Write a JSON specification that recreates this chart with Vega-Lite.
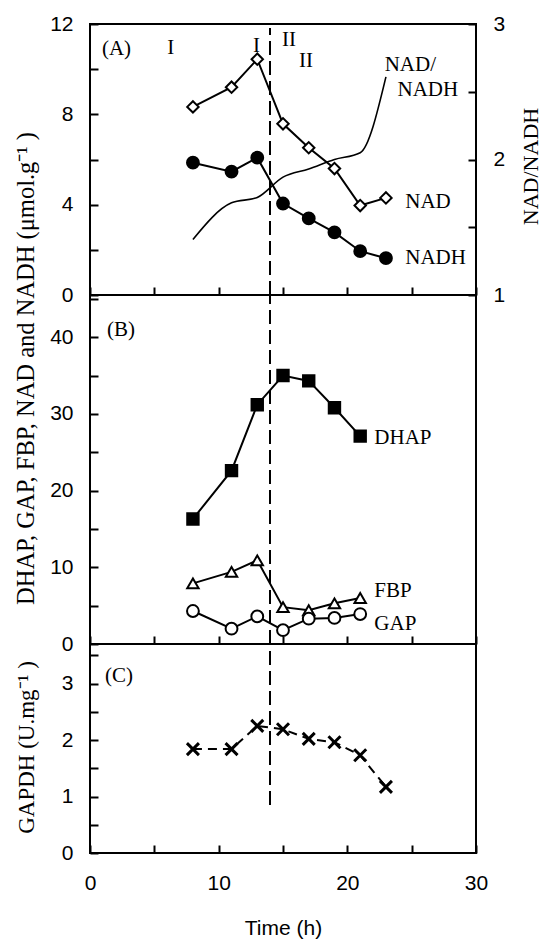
{
  "$schema": "https://vega.github.io/schema/vega-lite/v6.json",
  "background": "white",
  "padding": {"left": 11, "top": 12, "right": 0, "bottom": 0},
  "spacing": 0,
  "bounds": "flush",
  "config": {
    "view": {"stroke": "black", "strokeWidth": 2},
    "axis": {
      "domain": false, "grid": false,
      "tickColor": "black", "tickWidth": 2, "tickSize": -8,
      "labelFont": "Liberation Sans", "labelFontSize": 21, "labelColor": "black",
      "labelPadding": 25, "labelFlush": false, "labelOverlap": false, "labelBound": false,
      "titleFont": "Liberation Serif", "titleFontSize": 23, "titleFontWeight": "normal", "titleColor": "black"
    },
    "text": {"font": "Liberation Serif", "fontSize": 21, "color": "black"}
  },
  "datasets": {
    "panelA": [
      {"t": 8, "s": "NAD", "v": 8.33}, {"t": 11, "s": "NAD", "v": 9.2}, {"t": 13, "s": "NAD", "v": 10.44}, {"t": 15, "s": "NAD", "v": 7.58},
      {"t": 17, "s": "NAD", "v": 6.52}, {"t": 19, "s": "NAD", "v": 5.6}, {"t": 21, "s": "NAD", "v": 3.96}, {"t": 23, "s": "NAD", "v": 4.3},
      {"t": 8, "s": "NADH", "v": 5.86}, {"t": 11, "s": "NADH", "v": 5.46}, {"t": 13, "s": "NADH", "v": 6.08}, {"t": 15, "s": "NADH", "v": 4.05},
      {"t": 17, "s": "NADH", "v": 3.39}, {"t": 19, "s": "NADH", "v": 2.77}, {"t": 21, "s": "NADH", "v": 1.94}, {"t": 23, "s": "NADH", "v": 1.63}
    ],
    "ratio": [
      {"t": 8, "r": 1.41}, {"t": 11, "r": 1.68}, {"t": 13, "r": 1.72}, {"t": 15, "r": 1.87},
      {"t": 17, "r": 1.93}, {"t": 19, "r": 2.0}, {"t": 21, "r": 2.05}, {"t": 23, "r": 2.61}
    ],
    "panelB": [
      {"t": 8, "s": "DHAP", "v": 16.3}, {"t": 11, "s": "DHAP", "v": 22.6}, {"t": 13, "s": "DHAP", "v": 31.2}, {"t": 15, "s": "DHAP", "v": 35.0},
      {"t": 17, "s": "DHAP", "v": 34.3}, {"t": 19, "s": "DHAP", "v": 30.8}, {"t": 21, "s": "DHAP", "v": 27.1},
      {"t": 8, "s": "FBP", "v": 7.9}, {"t": 11, "s": "FBP", "v": 9.4}, {"t": 13, "s": "FBP", "v": 10.9}, {"t": 15, "s": "FBP", "v": 4.8},
      {"t": 17, "s": "FBP", "v": 4.4}, {"t": 19, "s": "FBP", "v": 5.3}, {"t": 21, "s": "FBP", "v": 6.0},
      {"t": 8, "s": "GAP", "v": 4.3}, {"t": 11, "s": "GAP", "v": 2.0}, {"t": 13, "s": "GAP", "v": 3.6}, {"t": 15, "s": "GAP", "v": 1.8},
      {"t": 17, "s": "GAP", "v": 3.3}, {"t": 19, "s": "GAP", "v": 3.4}, {"t": 21, "s": "GAP", "v": 3.9}
    ],
    "panelC": [
      {"t": 8, "v": 1.84}, {"t": 11, "v": 1.84}, {"t": 13, "v": 2.25}, {"t": 15, "v": 2.19},
      {"t": 17, "v": 2.02}, {"t": 19, "v": 1.96}, {"t": 21, "v": 1.73}, {"t": 23, "v": 1.17}
    ],
    "labelsA": [
      {"t": 0.93, "v": 10.88, "text": "(A)"}, {"t": 6.0, "v": 10.93, "text": "I"}, {"t": 12.67, "v": 11.02, "text": "I"},
      {"t": 14.92, "v": 11.28, "text": "II"}, {"t": 16.24, "v": 10.35, "text": "II"},
      {"t": 22.9, "v": 10.18, "text": "NAD/"}, {"t": 23.9, "v": 9.07, "text": "NADH"},
      {"t": 24.5, "v": 4.12, "text": "NAD"}, {"t": 24.5, "v": 1.64, "text": "NADH"}
    ],
    "labelsB": [
      {"t": 1.32, "v": 40.9, "text": "(B)"}, {"t": 22.1, "v": 26.8, "text": "DHAP"},
      {"t": 22.1, "v": 6.9, "text": "FBP"}, {"t": 22.1, "v": 2.6, "text": "GAP"}
    ],
    "labelsC": [
      {"t": 1.17, "v": 3.14, "text": "(C)"}
    ]
  },
  "vconcat": [
    {
      "width": 386, "height": 271,
      "layer": [
        {
          "data": {"name": "panelA"},
          "encoding": {
            "x": {"field": "t", "type": "quantitative", "scale": {"domain": [0, 30], "nice": false}, "axis": {"title": null, "labels": false, "values": [0, 5, 10, 15, 20, 25, 30]}},
            "y": {"field": "v", "type": "quantitative", "scale": {"domain": [0, 12], "nice": false}, "axis": {"title": null, "values": [0, 2, 4, 6, 8, 10, 12], "labelExpr": "datum.value % 4 == 0 ? datum.label : ''"}}
          },
          "layer": [
            {"mark": {"type": "rule", "stroke": "black", "strokeWidth": 1.5, "strokeDash": [14, 6]}, "encoding": {"x": {"datum": 14}, "y": {"datum": 0}, "y2": {"datum": 11.8}}},
            {"mark": {"type": "line", "stroke": "black", "strokeWidth": 2}, "encoding": {"detail": {"field": "s"}}},
            {"transform": [{"filter": "datum.s == 'NAD'"}], "mark": {"type": "point", "shape": "diamond", "filled": true, "fill": "white", "stroke": "black", "strokeWidth": 2, "size": 130, "opacity": 1}},
            {"transform": [{"filter": "datum.s == 'NADH'"}], "mark": {"type": "point", "shape": "circle", "filled": true, "fill": "black", "stroke": "black", "size": 140, "opacity": 1}},
            {"data": {"name": "labelsA"}, "mark": {"type": "text", "align": "left", "baseline": "middle", "font": "Liberation Serif", "fontSize": 21, "fill": "black"}, "encoding": {"text": {"field": "text"}}}
          ]
        },
        {
          "data": {"name": "ratio"},
          "mark": {"type": "line", "stroke": "black", "strokeWidth": 1.6, "interpolate": "monotone"},
          "encoding": {
            "x": {"field": "t", "type": "quantitative", "scale": {"domain": [0, 30], "nice": false}, "axis": {"title": null, "labels": false, "values": [0, 5, 10, 15, 20, 25, 30]}},
            "y": {"field": "r", "type": "quantitative", "scale": {"domain": [1, 3], "nice": false, "zero": false},
                  "axis": {"orient": "right", "title": "NAD/NADH", "titleAngle": -90, "titleX": 61, "titleY": 142, "titleAlign": "center", "titleBaseline": "alphabetic", "titleFontSize": 22,
                           "values": [1, 1.5, 2, 2.5, 3], "labelExpr": "datum.value % 1 == 0 ? format(datum.value, 'd') : ''"}}
          }
        }
      ],
      "resolve": {"scale": {"y": "independent"}}
    },
    {
      "width": 386, "height": 349,
      "data": {"name": "panelB"},
      "encoding": {
        "x": {"field": "t", "type": "quantitative", "scale": {"domain": [0, 30], "nice": false}, "axis": {"title": null, "labels": false, "values": [0, 5, 10, 15, 20, 25, 30]}},
        "y": {"field": "v", "type": "quantitative", "scale": {"domain": [0, 45.5], "nice": false},
              "axis": {"title": "DHAP, GAP, FBP, NAD and NADH (μmol.g⁻¹ )", "titleAngle": -90, "titleX": -57, "titleY": 73, "titleAlign": "center", "titleBaseline": "alphabetic", "titleFontSize": 24.5,
                       "values": [0, 5, 10, 15, 20, 25, 30, 35, 40, 45], "labelExpr": "datum.value % 10 == 0 ? datum.label : ''"}}
      },
      "layer": [
        {"mark": {"type": "rule", "stroke": "black", "strokeWidth": 1.5, "strokeDash": [14, 6]}, "encoding": {"x": {"datum": 14}, "y": {"datum": 0}, "y2": {"datum": 45.5}}},
        {"mark": {"type": "line", "stroke": "black", "strokeWidth": 2}, "encoding": {"detail": {"field": "s"}}},
        {"transform": [{"filter": "datum.s == 'DHAP'"}], "mark": {"type": "point", "shape": "square", "filled": true, "fill": "black", "stroke": "black", "size": 130, "opacity": 1}},
        {"transform": [{"filter": "datum.s == 'FBP'"}], "mark": {"type": "point", "shape": "triangle-up", "filled": true, "fill": "white", "stroke": "black", "strokeWidth": 2, "size": 130, "opacity": 1}},
        {"transform": [{"filter": "datum.s == 'GAP'"}], "mark": {"type": "point", "shape": "circle", "filled": true, "fill": "white", "stroke": "black", "strokeWidth": 2, "size": 140, "opacity": 1}},
        {"data": {"name": "labelsB"}, "mark": {"type": "text", "align": "left", "baseline": "middle", "font": "Liberation Serif", "fontSize": 21, "fill": "black"}, "encoding": {"text": {"field": "text"}}}
      ]
    },
    {
      "width": 386, "height": 209,
      "data": {"name": "panelC"},
      "encoding": {
        "x": {"field": "t", "type": "quantitative", "scale": {"domain": [0, 30], "nice": false},
              "axis": {"title": "Time (h)", "titleFont": "Liberation Sans", "titleFontSize": 21, "titleY": 81, "titleBaseline": "alphabetic",
                       "values": [0, 5, 10, 15, 20, 25, 30], "labelExpr": "datum.value % 10 == 0 ? datum.label : ''", "labelPadding": 27}},
        "y": {"field": "v", "type": "quantitative", "scale": {"domain": [0, 3.7], "nice": false},
              "axis": {"title": "GAPDH (U.mg⁻¹ )", "titleAngle": -90, "titleX": -57, "titleY": 103, "titleAlign": "center", "titleBaseline": "alphabetic",
                       "values": [0, 0.5, 1, 1.5, 2, 2.5, 3, 3.5], "labelExpr": "datum.value % 1 == 0 ? format(datum.value, 'd') : ''"}}
      },
      "layer": [
        {"mark": {"type": "rule", "stroke": "black", "strokeWidth": 1.5, "strokeDash": [14, 6]}, "encoding": {"x": {"datum": 14}, "y": {"datum": 0.85}, "y2": {"datum": 3.7}}},
        {"mark": {"type": "line", "stroke": "black", "strokeWidth": 2, "strokeDash": [9, 6]}},
        {"mark": {"type": "point", "shape": "M-1,-1L1,1M-1,1L1,-1", "filled": false, "stroke": "black", "strokeWidth": 3, "size": 144, "opacity": 1}},
        {"data": {"name": "labelsC"}, "mark": {"type": "text", "align": "left", "baseline": "middle", "font": "Liberation Serif", "fontSize": 21, "fill": "black"}, "encoding": {"text": {"field": "text"}}}
      ]
    }
  ]
}
